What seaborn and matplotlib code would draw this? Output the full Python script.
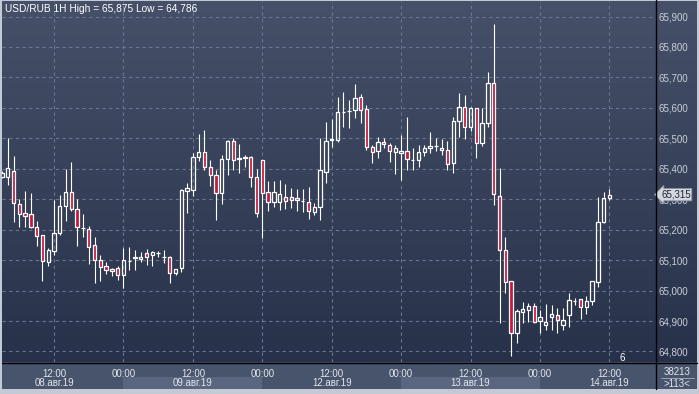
import numpy as np
import matplotlib
matplotlib.use("Agg")
import matplotlib.pyplot as plt
import seaborn as sns
import matplotlib.transforms as mtrans
from matplotlib.patches import Rectangle
from matplotlib.lines import Line2D
from matplotlib.colors import LinearSegmentedColormap
from matplotlib.ticker import FuncFormatter

# hourly USD/RUB candles, 08.08.2019 03:00 .. 14.08.2019 12:00 (no weekend)
opens = [65.373, 65.373, 65.393, 65.284, 65.255, 65.251, 65.209, 65.182, 65.094, 65.130,
         65.189, 65.278, 65.324, 65.268, 65.204, 65.202, 65.150, 65.100, 65.081, 65.071,
         65.074, 65.051, 65.097, 65.107, 65.104, 65.123, 65.117, 65.123, 65.110, 65.110,
         65.058, 65.074, 65.327, 65.330, 65.439, 65.455, 65.406, 65.379, 65.320, 65.432,
         65.491, 65.433, 65.435, 65.439, 65.373, 65.429, 65.324, 65.291, 65.291, 65.307,
         65.307, 65.297, 65.294, 65.291, 65.258, 65.274, 65.389, 65.496, 65.494, 65.586,
         65.589, 65.593, 65.636, 65.596, 65.471, 65.458, 65.488, 65.478, 65.455, 65.452,
         65.458, 65.429, 65.429, 65.455, 65.468, 65.475, 65.462, 65.462, 65.419, 65.557,
         65.603, 65.537, 65.600, 65.485, 65.550, 65.682, 65.311, 65.133, 65.031, 64.861,
         64.930, 64.936, 64.949, 64.900, 64.887, 64.913, 64.920, 64.887, 64.920, 64.966,
         64.972, 64.946, 64.966, 65.028, 65.225, 65.304]
highs = [65.393, 65.501, 65.442, 65.301, 65.327, 65.320, 65.228, 65.182, 65.140, 65.297,
         65.314, 65.399, 65.422, 65.301, 65.251, 65.212, 65.176, 65.117, 65.094, 65.074,
         65.081, 65.140, 65.143, 65.133, 65.127, 65.136, 65.130, 65.130, 65.133, 65.113,
         65.071, 65.334, 65.353, 65.452, 65.514, 65.527, 65.429, 65.396, 65.445, 65.494,
         65.501, 65.481, 65.445, 65.442, 65.399, 65.429, 65.360, 65.360, 65.363, 65.350,
         65.337, 65.334, 65.334, 65.340, 65.288, 65.501, 65.554, 65.563, 65.636, 65.652,
         65.626, 65.678, 65.646, 65.609, 65.478, 65.504, 65.501, 65.485, 65.478, 65.511,
         65.570, 65.468, 65.478, 65.478, 65.521, 65.501, 65.498, 65.491, 65.570, 65.649,
         65.642, 65.603, 65.600, 65.600, 65.718, 65.875, 65.402, 65.176, 65.031, 64.939,
         64.962, 64.959, 64.959, 64.936, 64.956, 64.953, 64.943, 64.943, 64.992, 64.976,
         64.972, 64.982, 65.031, 65.307, 65.324, 65.334]
lows = [65.370, 65.347, 65.225, 65.209, 65.209, 65.205, 65.146, 65.031, 65.081, 65.117,
        65.182, 65.228, 65.261, 65.146, 65.176, 65.087, 65.025, 65.031, 65.054, 65.048,
        65.035, 65.008, 65.067, 65.067, 65.094, 65.084, 65.081, 65.110, 65.090, 65.025,
        65.051, 65.061, 65.255, 65.311, 65.425, 65.396, 65.343, 65.232, 65.284, 65.379,
        65.396, 65.386, 65.406, 65.340, 65.242, 65.173, 65.261, 65.274, 65.265, 65.268,
        65.271, 65.261, 65.258, 65.235, 65.248, 65.232, 65.353, 65.471, 65.488, 65.537,
        65.534, 65.567, 65.550, 65.462, 65.419, 65.435, 65.468, 65.422, 65.383, 65.363,
        65.396, 65.396, 65.406, 65.442, 65.452, 65.458, 65.445, 65.396, 65.386, 65.504,
        65.498, 65.524, 65.435, 65.475, 65.537, 65.281, 64.893, 64.992, 64.786, 64.828,
        64.893, 64.897, 64.893, 64.861, 64.870, 64.870, 64.861, 64.870, 64.880, 64.953,
        64.907, 64.923, 64.953, 65.012, 65.222, 65.297]
closes = [65.386, 65.402, 65.288, 65.251, 65.245, 65.209, 65.179, 65.097, 65.133, 65.189,
          65.278, 65.324, 65.268, 65.209, 65.206, 65.143, 65.100, 65.077, 65.067, 65.064,
          65.051, 65.100, 65.098, 65.110, 65.110, 65.110, 65.127, 65.124, 65.111, 65.058,
          65.071, 65.330, 65.337, 65.439, 65.455, 65.406, 65.379, 65.320, 65.432, 65.491,
          65.429, 65.435, 65.439, 65.373, 65.255, 65.320, 65.291, 65.324, 65.317, 65.294,
          65.297, 65.304, 65.295, 65.261, 65.274, 65.396, 65.491, 65.497, 65.586, 65.587,
          65.590, 65.632, 65.593, 65.471, 65.455, 65.488, 65.481, 65.458, 65.468, 65.458,
          65.432, 65.430, 65.455, 65.468, 65.475, 65.476, 65.468, 65.416, 65.557, 65.603,
          65.537, 65.600, 65.485, 65.550, 65.682, 65.317, 65.133, 65.028, 64.861, 64.933,
          64.939, 64.949, 64.897, 64.913, 64.897, 64.923, 64.903, 64.903, 64.969, 64.967,
          64.946, 64.966, 65.031, 65.225, 65.304, 65.315]

time_ticks = [9, 21, 33, 45, 57, 69, 81, 93, 105]
time_labels = ["12:00", "00:00", "12:00", "00:00", "12:00", "00:00", "12:00", "00:00", "12:00"]
date_ticks = [9, 33, 57, 81, 105]
date_labels = ["08.авг.19", "09.авг.19", "12.авг.19", "13.авг.19", "14.авг.19"]
day_bands = [(21, 45), (69, 93)]
price_ticks = [64.8, 64.9, 65.0, 65.1, 65.2, 65.3, 65.4, 65.5, 65.6, 65.7, 65.8, 65.9]

sns.set_style("dark")
plt.rcParams["font.family"] = ["Liberation Sans", "DejaVu Sans"]

W, H = 699, 394


def fr(x0, y0, x1, y1):
    return [x0 / W, 1 - y1 / H, (x1 - x0) / W, (y1 - y0) / H]


fig = plt.figure(figsize=(W / 100, H / 100), dpi=100, facecolor="#c3cad5")

# gradient background
bg = fig.add_axes(fr(2, 1, 697, 362), zorder=-2)
cmap = LinearSegmentedColormap.from_list("bg", ["#465169", "#27314a"])
bg.imshow(np.linspace(0, 1, 256).reshape(-1, 1), cmap=cmap, aspect="auto",
          extent=[0, 1, 0, 1])
bg.set_axis_off()

# time strip
fig.add_artist(Rectangle((2 / W, 1 - 389 / H), 695 / W, 27 / H, transform=fig.transFigure,
                         facecolor="#48536c", edgecolor="none", zorder=-1))

ax = fig.add_axes(fr(2, 1, 655, 362))
ax.set_facecolor("none")

o = np.array(opens)
h = np.array(highs)
l = np.array(lows)
c = np.array(closes)
idx = np.arange(len(o))
up = c >= o
top = np.maximum(o, c)
bot = np.minimum(o, c)

ax.vlines(idx, top, h, color="white", lw=0.8, zorder=3)
ax.vlines(idx, l, bot, color="white", lw=0.8, zorder=3)
ax.bar(idx[up], (top - bot)[up], bottom=bot[up], width=0.58, facecolor="none",
       edgecolor="white", linewidth=0.9, zorder=4)
ax.bar(idx[~up], (top - bot)[~up], bottom=bot[~up], width=0.58, facecolor="#c8193c",
       edgecolor="white", linewidth=0.9, zorder=4)

ax.set_xlim(0.01, 112.87)
ax.set_ylim(64.7654, 65.951)

ax.set_yticks(price_ticks)
ax.yaxis.set_major_formatter(FuncFormatter(lambda v, p: f"{v:.3f}".replace(".", ",")))
ax.yaxis.tick_right()
ax.tick_params(axis="y", length=0, pad=2.5, labelcolor="#c9ced8", labelsize=7)
ax.set_xticks(time_ticks, time_labels)
ax.tick_params(axis="x", length=0, pad=5, labelcolor="#e2e5eb", labelsize=7)
ax.grid(True, color="#6a7590", linestyle=(0, (3, 3)), linewidth=0.8)
for s in ax.spines.values():
    s.set_visible(False)

strip = mtrans.blended_transform_factory(ax.transData, fig.transFigure)
for a, b in day_bands:
    fig.add_artist(Rectangle((a, 1 - 389 / H), b - a, 12 / H, transform=strip,
                             facecolor="#5a6580", edgecolor="none", zorder=-0.5))
for t, lab in zip(date_ticks, date_labels):
    ax.text(t, 1 - 383 / H, lab, transform=strip, ha="center", va="center",
            color="#e2e5eb", size=7, clip_on=False)

# frame lines
fig.add_artist(Line2D([655.5 / W, 655.5 / W], [1, 1 - 389 / H], color="black", lw=1))
fig.add_artist(Line2D([2 / W, 697 / W], [1 - 362.5 / H, 1 - 362.5 / H], color="black", lw=1))

# header
fig.text(5 / W, 1 - 9 / H,
         f"USD/RUB 1H High = {max(highs):.3f} Low = {min(lows):.3f}".replace(".", ","),
         color="white", size=7.3, va="center", ha="left")

# last price tag
tag = mtrans.blended_transform_factory(ax.transAxes, ax.transData)
ax.text(1 + 6 / 653, closes[-1], f"{closes[-1]:.3f}".replace(".", ","), transform=tag,
        ha="left", va="center", color="#1e2535", size=7, clip_on=False, zorder=10,
        bbox=dict(boxstyle="larrow,pad=0.12", facecolor="#d3d7de", edgecolor="#8c94a3", lw=0.6))

fig.text(622 / W, 1 - 358 / H, "6", color="white", size=7, ha="center", va="center")
fig.text(677 / W, 1 - 372 / H, "38213", color="#e2e5eb", size=7, ha="center", va="center")
fig.text(677 / W, 1 - 384 / H, ">113<", color="#e2e5eb", size=7, ha="center", va="center")
fig.add_artist(Line2D([661 / W, 694 / W], [1 - 378 / H, 1 - 378 / H], color="#aab2c0", lw=0.6))

fig.savefig("out.png", dpi=100, facecolor=fig.get_facecolor())
